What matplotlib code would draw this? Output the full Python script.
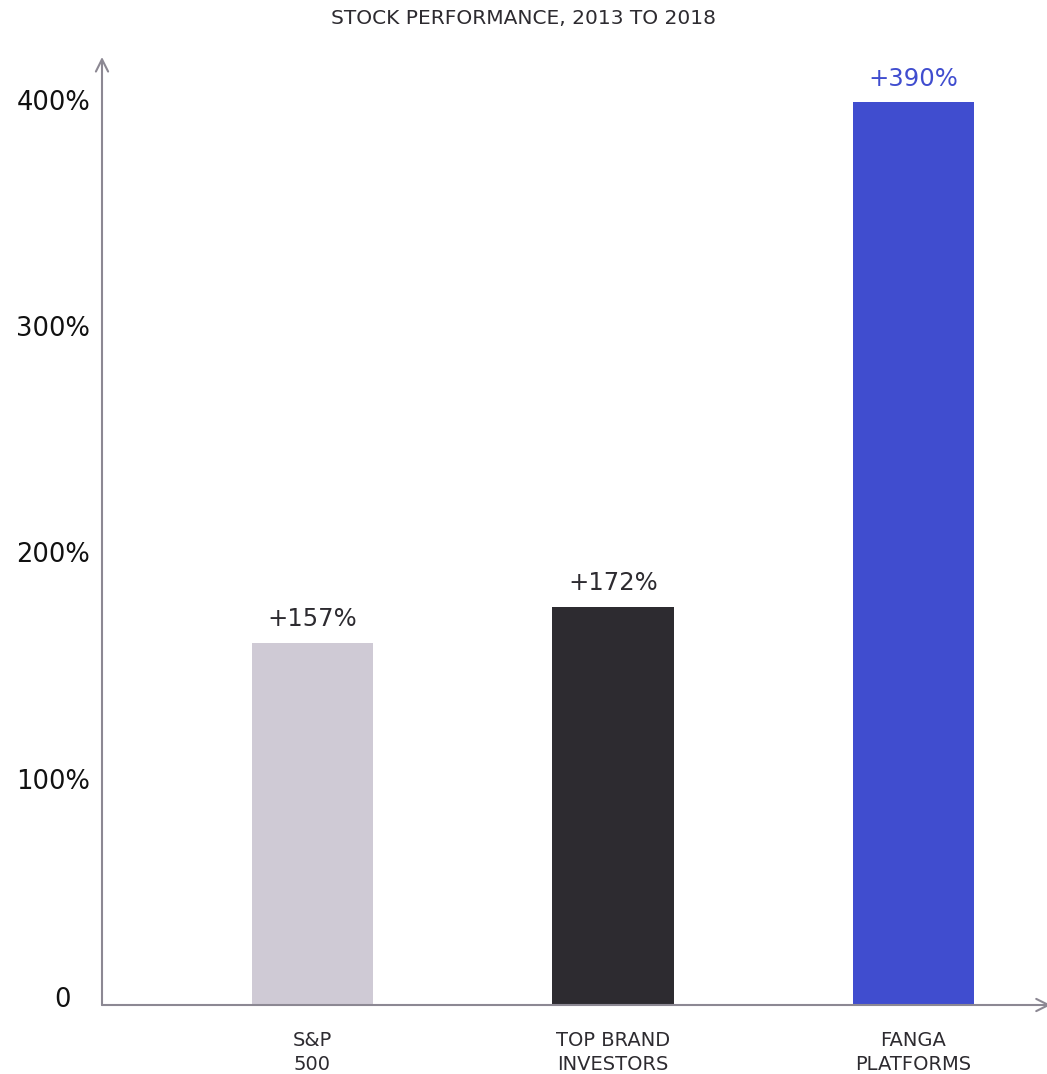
import matplotlib.pyplot as plt
from matplotlib.transforms import ScaledTranslation

# Datos
categorias = ["S&P\n500", "TOP BRAND\nINVESTORS", "FANGA\nPLATFORMS"]
alturas = [160, 176, 399]          # altura dibujada de cada barra (%)
etiquetas = ["+157%", "+172%", "+390%"]
ticks_y = [0, 100, 200, 300, 400]
ticks_y_txt = ["0", "100%", "200%", "300%", "400%"]

colores = ["#cfcad5", "#2d2b30", "#404dcf"]
colores_txt = ["#2d2b30", "#2d2b30", "#404dcf"]
gris_eje = "#8c8893"

plt.rcParams['font.family'] = ['DejaVu Sans']

fig = plt.figure(figsize=(10.47, 10.74), dpi=100)
ax = fig.add_axes([102 / 1047, 1 - 1005 / 1074, 1 - 102 / 1047, (1005 - 57) / 1074])

x = list(range(len(categorias)))
ax.bar(x, alturas, width=0.403, color=colores)

for xi, h, txt, c in zip(x, alturas, etiquetas, colores_txt):
    ax.annotate(txt, (xi, h), xytext=(0, 12), textcoords='offset points',
                ha='center', va='baseline', fontsize=17.5, color=c)

ax.set_xlim(-0.70, 2.444)
ax.set_ylim(0, 419)

ax.set_yticks(ticks_y)
ax.set_yticklabels(ticks_y_txt, fontsize=18.5, color='#111111', ha='center')
ax.tick_params(axis='y', length=0, pad=35)

# el "0" va un poco más arriba y a la derecha en el original
cero = ax.get_yticklabels()[0]
cero.set_transform(cero.get_transform() + ScaledTranslation(0.09, 0.08, fig.dpi_scale_trans))

ax.set_xticks(x)
ax.set_xticklabels(categorias, fontsize=14, color='#2d2b30', linespacing=1.3)
ax.tick_params(axis='x', length=0, pad=19)

for s in ax.spines.values():
    s.set_visible(False)

# Ejes con flecha
ax.annotate('', xy=(0, 1), xytext=(0, 0), xycoords='axes fraction',
            arrowprops=dict(arrowstyle='->', color=gris_eje, lw=1.5, mutation_scale=22,
                            shrinkA=0, shrinkB=0))
ax.annotate('', xy=(1.004, 0), xytext=(0, 0), xycoords='axes fraction',
            arrowprops=dict(arrowstyle='->', color=gris_eje, lw=1.5, mutation_scale=22,
                            shrinkA=0, shrinkB=0), annotation_clip=False)

fig.text(0.5, 1 - 19 / 1074, "STOCK PERFORMANCE, 2013 TO 2018", ha='center', va='center',
         fontsize=14.5, color='#2d2b30')

fig.savefig('out.png', dpi=100)
